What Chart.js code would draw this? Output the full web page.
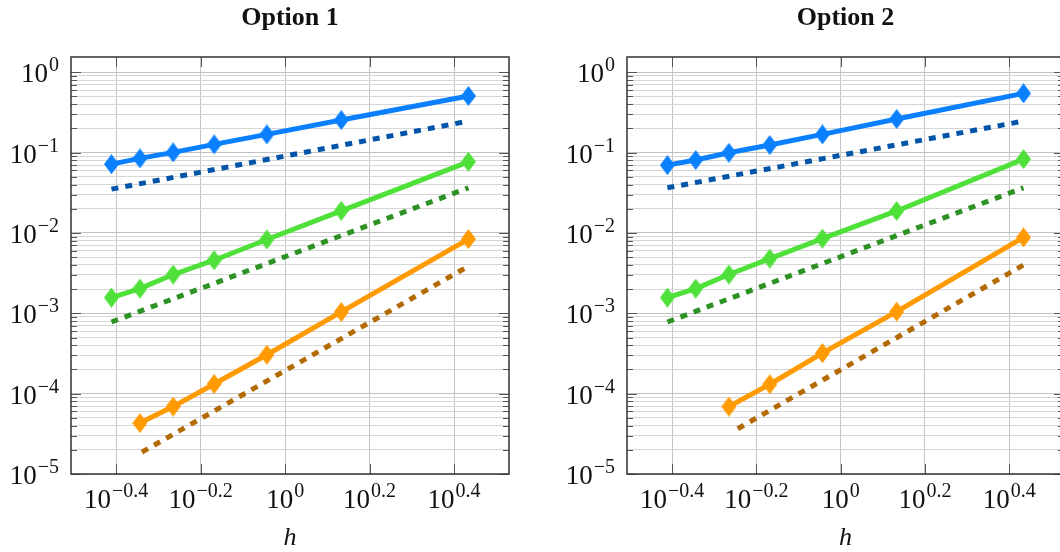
<!DOCTYPE html>
<html>
<head>
<meta charset="UTF-8" />
<title>Convergence plots</title>
<style>
    html, body { margin: 0; padding: 0; background: #fff; overflow: hidden; }
    body { width: 1060px; height: 552px; position: relative; }
    #chart1 { position: absolute; left: 0; top: 0; }
    #chart2 { position: absolute; left: 560px; top: 0; }
</style>
</head>
<body>
<canvas id="chart1" width="560" height="552"></canvas>
<canvas id="chart2" width="560" height="552"></canvas>
<script src="https://cdn.jsdelivr.net/npm/chart.js"></script>
<script>
// mesh sizes h (same for every series)
const hValues = [2.716, 1.358, 0.905, 0.679, 0.543, 0.453, 0.388];

// Option 1
const blue1   = [0.507, 0.2545, 0.1687, 0.1267, 0.1007, 0.0848, 0.0719];
const green1  = [0.0769, 0.01884, 0.0083, 0.00458, 0.00304, 0.00203, 0.00157];
const orange1 = [0.0084, 0.00104, 0.000305, 0.000132, 0.000069, 0.000043];
// reference slopes (dashed), left end first
const refBlue1   = { h: [0.388, 2.716], v: [0.0351, 0.247] };
const refGreen1  = { h: [0.388, 2.716], v: [0.00078, 0.0365] };
const refOrange1 = { h: [0.458, 2.716], v: [0.0000187, 0.00386] };

// Option 2
const blue2   = [0.547, 0.262, 0.1687, 0.1243, 0.0996, 0.0809, 0.0699];
const green2  = [0.0831, 0.0188, 0.0085, 0.0048, 0.00304, 0.00203, 0.00157];
const orange2 = [0.0088, 0.00105, 0.00032, 0.000131, 0.000069];
const refBlue2   = { h: [0.388, 2.716], v: [0.0365, 0.247] };
const refGreen2  = { h: [0.388, 2.716], v: [0.00078, 0.0365] };
const refOrange2 = { h: [0.57, 2.716], v: [0.0000366, 0.004] };

// axes
const xMin = Math.pow(10, -0.507), xMax = Math.pow(10, 0.53);
const yMin = 1e-5, yMax = 1.55;
const xTickExps = [-0.4, -0.2, 0, 0.2, 0.4];
const xTickLabels = ['\u22120.4', '\u22120.2', '0', '0.2', '0.4'];
const yTickExps = [0, -1, -2, -3, -4, -5];
const yTickLabels = ['0', '\u22121', '\u22122', '\u22123', '\u22124', '\u22125'];

const xTicks = xTickExps.map(e => Math.pow(10, e));
const yTicks = [];
for (let k = -5; k <= 0; k++) {
    for (let m = 1; m <= 9; m++) {
        const v = m * Math.pow(10, k);
        if (v >= yMin * 0.999 && v <= yMax) yTicks.push({ value: v, major: m === 1 });
    }
}

const SERIF = '"Liberation Serif", "DejaVu Serif", serif';

function diamond(color) {
    const c = document.createElement('canvas');
    c.width = 15; c.height = 20;
    const g = c.getContext('2d');
    g.fillStyle = color;
    g.beginPath();
    g.moveTo(7.5, 0); g.lineTo(15, 10); g.lineTo(7.5, 20); g.lineTo(0, 10);
    g.closePath();
    g.fill();
    return c;
}

function solid(vals, color) {
    return {
        data: vals.map((v, i) => ({ x: hValues[i], y: v })),
        borderColor: color, backgroundColor: color,
        borderWidth: 5, borderJoinStyle: 'round',
        pointStyle: diamond(color), pointRadius: 6, showLine: true
    };
}
function dashed(ref, color) {
    return {
        data: ref.v.map((v, i) => ({ x: ref.h[i], y: v })),
        borderColor: color, backgroundColor: color,
        borderWidth: 5, borderDash: [7, 7], borderCapStyle: 'butt',
        pointRadius: 0, showLine: true
    };
}

// "10" with a raised exponent
function sup(ctx, x, y, exp, align) {
    ctx.font = '27px ' + SERIF;
    const w1 = ctx.measureText('10').width;
    ctx.font = '20px ' + SERIF;
    const w2 = ctx.measureText(exp).width;
    let x0 = align === 'right' ? x - w1 - w2 - 1 : x - (w1 + w2 + 1) / 2;
    ctx.textAlign = 'left';
    ctx.textBaseline = 'alphabetic';
    ctx.font = '27px ' + SERIF;
    ctx.fillText('10', x0, y);
    ctx.font = '20px ' + SERIF;
    ctx.fillText(exp, x0 + w1 + 1, y - 11);
}

const deco = {
    id: 'deco',
    beforeDatasetsDraw(chart) {
        const { ctx, chartArea: a, scales: { x, y } } = chart;
        ctx.save();
        ctx.strokeStyle = '#555';
        ctx.lineWidth = 1;
        ctx.beginPath();
        yTicks.forEach(t => {
            const py = Math.round(y.getPixelForValue(t.value)) + 0.5;
            const len = t.major ? 10 : 6;
            ctx.moveTo(a.left, py); ctx.lineTo(a.left + len, py);
            ctx.moveTo(a.right - len, py); ctx.lineTo(a.right, py);
        });
        xTicks.forEach(v => {
            const px = Math.round(x.getPixelForValue(v)) + 0.5;
            ctx.moveTo(px, a.bottom); ctx.lineTo(px, a.bottom - 10);
            ctx.moveTo(px, a.top); ctx.lineTo(px, a.top + 10);
        });
        ctx.stroke();
        ctx.strokeStyle = '#333';
        ctx.lineWidth = 1.5;
        ctx.strokeRect(a.left, a.top, a.right - a.left, a.bottom - a.top);
        ctx.restore();
    },
    afterDraw(chart) {
        const { ctx, chartArea: a, scales: { x, y } } = chart;
        ctx.save();
        ctx.fillStyle = '#111';
        yTickExps.forEach((e, i) => {
            sup(ctx, a.left - 12, y.getPixelForValue(Math.pow(10, e)) + 10, yTickLabels[i], 'right');
        });
        xTickExps.forEach((e, i) => {
            sup(ctx, x.getPixelForValue(Math.pow(10, e)), a.bottom + 34, xTickLabels[i], 'center');
        });
        const cx = (a.left + a.right) / 2;
        ctx.textAlign = 'center';
        ctx.font = 'bold 26px ' + SERIF;
        ctx.fillText(chart.options.plugins.deco.title, cx, 25);
        ctx.font = 'italic 26px ' + SERIF;
        ctx.fillText('h', cx, 545);
        ctx.restore();
    }
};

function makeChart(id, title, datasets, pad) {
    return new Chart(document.getElementById(id), {
        type: 'scatter',
        data: { datasets: datasets },
        options: {
            responsive: false,
            animation: false,
            layout: { padding: pad },
            plugins: { legend: { display: false }, tooltip: { enabled: false }, deco: { title: title } },
            scales: {
                x: {
                    type: 'logarithmic', min: xMin, max: xMax, bounds: 'data',
                    afterBuildTicks: s => { s.ticks = xTicks.map(v => ({ value: v })); },
                    ticks: { display: false },
                    border: { display: false },
                    grid: { drawTicks: false, color: '#c6c6c6', lineWidth: 1 }
                },
                y: {
                    type: 'logarithmic', min: yMin, max: yMax, bounds: 'data',
                    afterBuildTicks: s => { s.ticks = yTicks.map(t => ({ value: t.value, major: t.major })); },
                    ticks: { display: false },
                    border: { display: false },
                    grid: {
                        drawTicks: false, lineWidth: 1,
                        color: c => (c.tick && c.tick.major) ? '#c2c2c2' : '#d6d6d6'
                    }
                }
            }
        },
        plugins: [deco]
    });
}

makeChart('chart1', 'Option 1', [
    solid(blue1, '#0b80ff'), dashed(refBlue1, '#0055a8'),
    solid(green1, '#4fe03a'), dashed(refGreen1, '#2e9124'),
    solid(orange1, '#ff9a00'), dashed(refOrange1, '#b36a00')
], { left: 71, right: 51, top: 57, bottom: 78 });

makeChart('chart2', 'Option 2', [
    solid(blue2, '#0b80ff'), dashed(refBlue2, '#0055a8'),
    solid(green2, '#4fe03a'), dashed(refGreen2, '#2e9124'),
    solid(orange2, '#ff9a00'), dashed(refOrange2, '#b36a00')
], { left: 67, right: 56, top: 57, bottom: 78 });
</script>
</body>
</html>
